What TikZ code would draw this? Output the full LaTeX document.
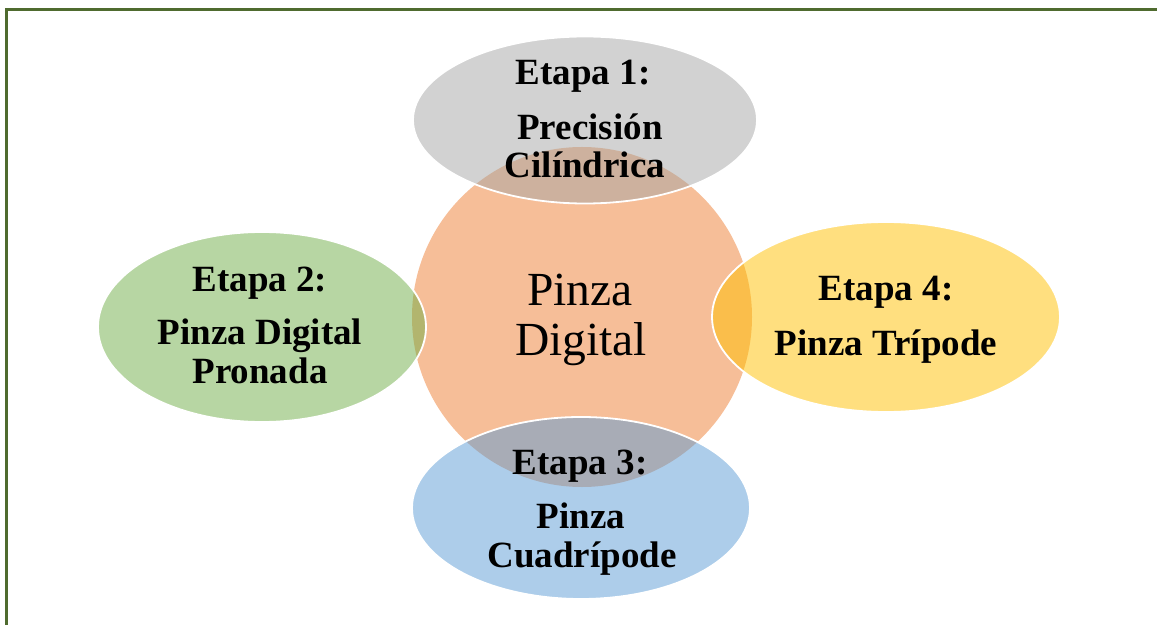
\documentclass[tikz,border=0pt]{standalone}
\usepackage{fontspec}
\setmainfont{Liberation Serif}
\usetikzlibrary{shapes.geometric}
\definecolor{oorange}{HTML}{ED7D31}
\definecolor{ogray}{HTML}{A5A5A5}
\definecolor{oblue}{HTML}{5B9BD5}
\definecolor{ogreen}{HTML}{70AD47}
\definecolor{oyellow}{HTML}{FFC000}
\definecolor{frameg}{HTML}{4F6B2F}
\begin{document}
\begin{tikzpicture}[x=1bp,y=-1bp,
  blob/.style={ellipse, inner sep=0pt, fill opacity=0.5, draw=white, line width=1.8bp},
  lbl/.style={anchor=base, font=\fontsize{37bp}{42bp}\selectfont\bfseries, inner sep=0pt},
  core/.style={anchor=base, font=\fontsize{47.5bp}{50bp}\selectfont, inner sep=0pt},
  frame/.style={draw=frameg, line width=2.4bp}
]
\useasboundingbox (0,0) rectangle (1157,625);
\draw[frame] (6.5,625) -- (6.5,9.5) -- (1157,9.5);
\node[circle, fill=oorange, fill opacity=0.5, minimum size=340bp, inner sep=0pt] (hub) at (582,317) {};
\node[blob, fill=ogray, minimum width=344bp, minimum height=167bp] (e1) at (585,120) {};
\node[blob, fill=ogreen, minimum width=328bp, minimum height=190bp] (e2) at (262,327) {};
\node[blob, fill=oblue, minimum width=338bp, minimum height=182bp] (e3) at (581,508) {};
\node[blob, fill=oyellow, minimum width=348bp, minimum height=190bp] (e4) at (886,317) {};
% hub text
\node[core] (h1) at (580,306) {Pinza};
\node[core] (h2) at (581,355) {Digital};
% stage 1
\node[lbl] (a1) at (583,85) {Etapa 1:};
\node[lbl] (a2) at (590,140) {Precisión};
\node[lbl] (a3) at (585,178) {Cilíndrica};
% stage 2
\node[lbl] (b1) at (260,292) {Etapa 2:};
\node[lbl] (b2) at (260,345) {Pinza Digital};
\node[lbl] (b3) at (260,383) {Pronada};
% stage 3
\node[lbl] (c1) at (580,474) {Etapa 3:};
\node[lbl] (c2) at (581,528) {Pinza};
\node[lbl] (c3) at (582,567) {Cuadrípode};
% stage 4
\node[lbl] (d1) at (886,301) {Etapa 4:};
\node[lbl] (d2) at (886,355) {Pinza Trípode};
\end{tikzpicture}
\end{document}
